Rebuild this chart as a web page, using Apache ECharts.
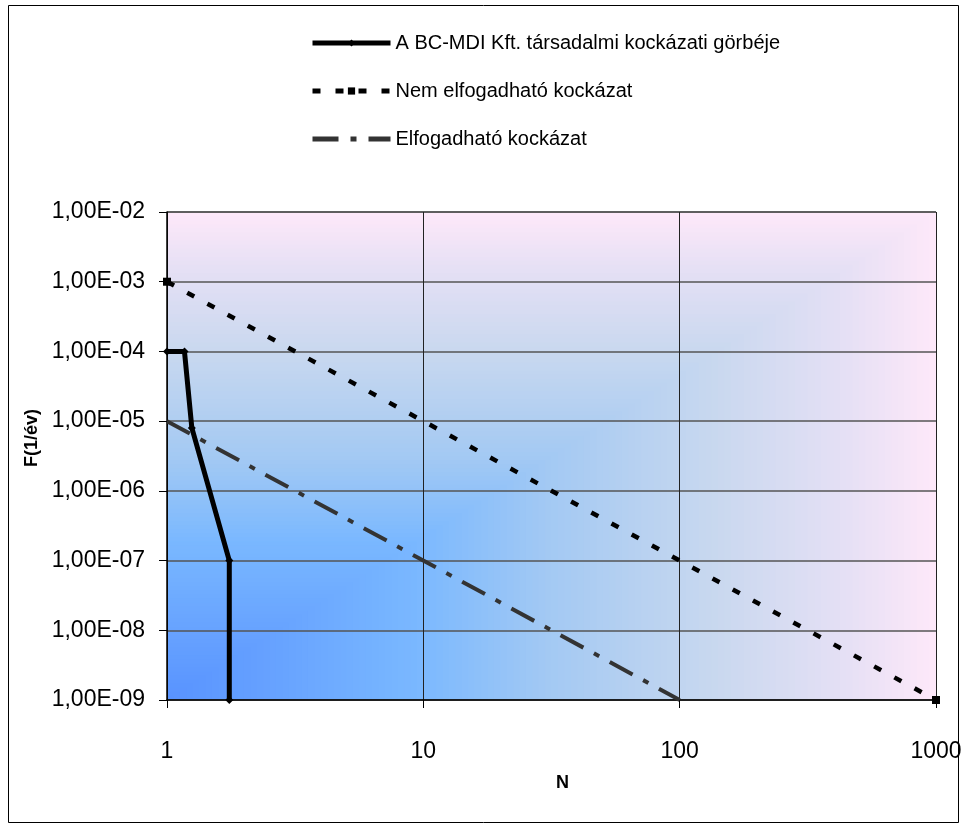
<!DOCTYPE html>
<html>
<head>
<meta charset="utf-8">
<script src="https://cdn.jsdelivr.net/npm/echarts@6/dist/echarts.min.js"></script>
<style>
  html, body { margin: 0; padding: 0; background: #fff; }
  #main { width: 965px; height: 832px; }
</style>
</head>
<body>
<div id="main"></div>
<script>
// series names (legend)
var seriesNames = ['A BC-MDI Kft. társadalmi kockázati görbéje', 'Nem elfogadható kockázat', 'Elfogadható kockázat'];

// [N, F] pairs
var tarsadalmiData = [[1, 1e-4], [1.17, 1e-4], [1.25, 8e-6], [1.75, 1e-7], [1.75, 1e-9]];
var nemElfogadhatoData = [[1, 1e-3], [1000, 1e-9]];
var elfogadhatoData = [[1, 1e-5], [100, 1e-9]];

// tick labels
var xTickLabels = ['1', '10', '100', '1000'];
var yTickLabels = ['1,00E-09', '1,00E-08', '1,00E-07', '1,00E-06', '1,00E-05', '1,00E-04', '1,00E-03', '1,00E-02'];

var FONT = '"Liberation Sans", Arial, sans-serif';

var chart = echarts.init(document.getElementById('main'));

var option = {
  animation: false,
  backgroundColor: '#ffffff',
  textStyle: { fontFamily: FONT },
  legend: {
    orient: 'vertical',
    left: 305,
    top: 28,
    itemWidth: 78,
    itemHeight: 9,
    itemGap: 28,
    textStyle: { fontFamily: FONT, fontSize: 20, color: '#000' },
    data: [
      { name: seriesNames[0], lineStyle: { width: 5 } },
      { name: seriesNames[1], lineStyle: { width: 5 } },
      { name: seriesNames[2], lineStyle: { width: 5 }, itemStyle: { color: 'rgba(0,0,0,0)', opacity: 0 } }
    ]
  },
  grid: {
    left: 167,
    right: 29,
    top: 212,
    bottom: 132
  },
  xAxis: {
    type: 'log',
    logBase: 10,
    min: 1,
    max: 1000,
    splitNumber: 3,
    name: 'N',
    nameLocation: 'middle',
    nameGap: 74,
    nameTextStyle: { fontFamily: FONT, fontSize: 18, fontWeight: 'bold', color: '#000', padding: [0, 0, 0, 22] },
    axisLine: { show: true, lineStyle: { color: '#000', width: 1.5 } },
    axisTick: { show: true, length: 8, lineStyle: { color: '#000' } },
    axisLabel: {
      margin: 40,
      fontFamily: FONT,
      fontSize: 23,
      color: '#000',
      formatter: function (v) {
        return xTickLabels[Math.round(Math.log10(v))];
      }
    },
    minorTick: { show: false },
    splitLine: { show: true, lineStyle: { color: '#222', width: 1 } }
  },
  yAxis: {
    type: 'log',
    logBase: 10,
    min: 1e-9,
    max: 1e-2,
    splitNumber: 7,
    name: 'F(1/év)',
    nameLocation: 'middle',
    nameGap: 111,
    nameRotate: 90,
    nameTextStyle: { fontFamily: FONT, fontSize: 18, fontWeight: 'bold', color: '#000', padding: [0, 0, 0, 36] },
    axisLine: { show: true, lineStyle: { color: '#000', width: 1.5 } },
    axisTick: { show: true, length: 8, lineStyle: { color: '#000' } },
    axisLabel: {
      margin: 22,
      fontFamily: FONT,
      fontSize: 23,
      color: '#000',
      formatter: function (v) {
        return yTickLabels[Math.round(Math.log10(v)) + 9];
      }
    },
    splitLine: { show: true, lineStyle: { color: '#555', width: 1.5 } }
  },
  series: [
    {
      name: seriesNames[0],
      type: 'line',
      data: tarsadalmiData,
      z: 5,
      clip: false,
      symbol: 'diamond',
      symbolSize: 8,
      itemStyle: { color: '#000' },
      lineStyle: { color: '#000', width: 5 }
    },
    {
      name: seriesNames[1],
      type: 'line',
      data: nemElfogadhatoData,
      z: 4,
      clip: false,
      symbol: 'rect',
      symbolSize: 8,
      itemStyle: { color: '#000' },
      lineStyle: { color: '#000', width: 4.5, type: [8, 15] }
    },
    {
      name: seriesNames[2],
      type: 'line',
      data: elfogadhatoData,
      z: 3,
      clip: false,
      symbol: 'none',
      itemStyle: { color: '#333' },
      lineStyle: { color: '#333', width: 4, type: [26, 12, 6, 12] }
    }
  ]
};
chart.setOption(option);

// plot area fill: Excel "from corner" gradient (blue at lower-left corner to pink at far edges)
var stops = [
  [0.00, [88, 146, 255]],
  [0.33, [122, 184, 255]],
  [0.50, [163, 201, 243]],
  [0.72, [201, 216, 239]],
  [0.89, [230, 224, 245]],
  [1.00, [253, 232, 249]]
];
function bandColor(t) {
  for (var i = 1; i < stops.length; i++) {
    if (t <= stops[i][0]) {
      var a = stops[i - 1], b = stops[i];
      var k = (t - a[0]) / (b[0] - a[0]);
      var c = [0, 1, 2].map(function (j) {
        return Math.round(a[1][j] + (b[1][j] - a[1][j]) * k);
      });
      return 'rgb(' + c.join(',') + ')';
    }
  }
  return 'rgb(' + stops[stops.length - 1][1].join(',') + ')';
}

var p0 = chart.convertToPixel({ gridIndex: 0 }, [1, 1e-9]);
var p1 = chart.convertToPixel({ gridIndex: 0 }, [1000, 1e-2]);
var W = p1[0] - p0[0], H = p0[1] - p1[1];
var bands = 120;
var elements = [];
for (var i = 0; i < bands; i++) {
  var s = 1 - i / bands;
  elements.push({
    type: 'rect',
    z: -10,
    silent: true,
    shape: { x: p0[0], y: p0[1] - H * s, width: W * s, height: H * s },
    style: { fill: bandColor(s), stroke: null }
  });
}
elements.push({
  type: 'rect',
  z: 100,
  silent: true,
  shape: { x: 8.5, y: 5.5, width: 950, height: 817 },
  style: { fill: null, stroke: '#000', lineWidth: 1 }
});
chart.setOption({ graphic: { elements: elements } });
</script>
</body>
</html>
